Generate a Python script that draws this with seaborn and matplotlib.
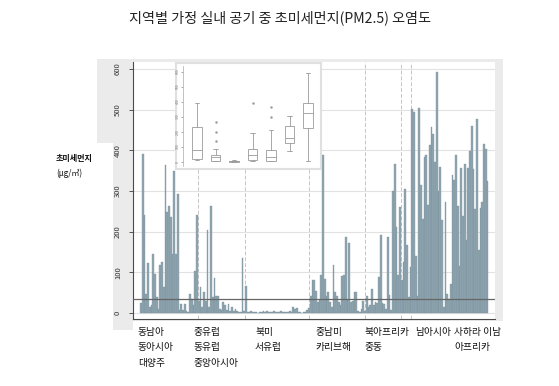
import matplotlib.pyplot as plt
import numpy as np
import seaborn as sns
from matplotlib.patches import Rectangle

sns.set_theme(style='white')
plt.rcParams['font.family'] = ['Noto Sans CJK KR', 'DejaVu Sans']
plt.rcParams['axes.unicode_minus'] = False

W, H = 559, 386

# 가정 실내 PM2.5 (국가별, 지역 순서대로) - 그림에서 읽은 값
asia_oceania = [25, 390, 240, 46, 122, 15, 20, 146, 96, 40, 10, 118, 126, 63,
                363, 249, 263, 237, 146, 348, 146, 293, 7, 22, 8, 22, 4, 3, 47]
europe_central_asia = [35, 20, 103, 240, 30, 65, 15, 52, 30, 205, 15, 262, 40,
                       85, 42, 42, 10, 8, 27, 20, 8, 22, 5, 15, 4, 10, 5, 3, 2,
                       135, 5, 67]
north_america_w_europe = [3, 2, 4, 2, 3, 2, 1, 3, 2, 4, 3, 5, 2, 3, 2, 4, 3, 2,
                          3, 5, 3, 2, 3, 2, 4, 3, 14, 10, 12, 3, 2, 1, 2, 3, 8]
latin_america = [12, 43, 80, 80, 53, 27, 32, 93, 389, 83, 43, 52, 27, 15, 119,
                 52, 43, 27, 20, 91, 93, 186, 32, 171, 28, 30, 52, 52, 6, 3]
mena = [10, 29, 5, 43, 15, 19, 60, 20, 27, 25, 88, 191, 25, 23, 10, 187, 45, 7]
south_asia_africa = [299, 367, 211, 93, 260, 80, 125, 305, 166, 39, 113, 502,
                     494, 140, 43, 503, 315, 232, 383, 387, 265, 412, 457, 440,
                     371, 592, 301, 359, 228, 15, 273, 47, 35, 72, 338, 326,
                     389, 263, 115, 356, 238, 367, 179, 356, 397, 459, 355, 255,
                     476, 154, 258, 273, 416, 404, 324]
pm25 = (asia_oceania + europe_central_asia + north_america_w_europe
        + latin_america + mena + south_asia_africa)
who_guideline = 35

# 삽입 상자그림 통계
box_lo = [12, 2, 0, 2, 2, 73, 7]
box_q1 = [16, 5, 1, 11, 5, 127, 222]
box_med = [78, 29, 3, 45, 33, 160, 322]
box_q3 = [233, 45, 5, 83, 78, 238, 393]
box_hi = [389, 83, 12, 189, 211, 305, 593]
box_out = [[], [135, 200, 265], [], [393], [300, 367], [], []]

region_rows = [['동남아', '동아시아', '대양주'],
               ['중유럽', '동유럽', '중앙아시아'],
               ['북미', '서유럽'],
               ['중남미', '카리브해'],
               ['북아프리카', '중동'],
               ['남아시아'],
               ['사하라 이남', '아프리카']]
region_x = [138, 193, 255, 315, 365, 415, 454]

title = '지역별 가정 실내 공기 중 초미세먼지(PM2.5) 오염도'


def fx(px):
    return px / W


def fy(py):
    return 1 - py / H


def main():
    fig = plt.figure(figsize=(W / 100, H / 100), dpi=100)
    fig.patch.set_facecolor('white')

    # 바깥 회색 패널과 덧붙인 흰 상자
    fig.add_artist(Rectangle((fx(97), fy(330)), fx(406), 271 / H,
                             transform=fig.transFigure, facecolor='#ebebeb',
                             edgecolor='none', zorder=-2))
    fig.add_artist(Rectangle((fx(133), 0), 1, fy(321),
                             transform=fig.transFigure, facecolor='white',
                             edgecolor='none', zorder=-1))
    fig.add_artist(Rectangle((0, 0), fx(113), fy(143),
                             transform=fig.transFigure, facecolor='white',
                             edgecolor='none', zorder=-1))

    ax = fig.add_axes([fx(133), fy(319), fx(362), 257 / H], zorder=0)
    ax.set_facecolor('white')
    sns.barplot(x=np.arange(len(pm25)), y=pm25, color='#90a6b1',
                saturation=1, width=0.9, linewidth=0.25,
                edgecolor='#78909c', ax=ax)
    step = 1.75
    ax.set_xlim(-(141 - 133) / step, -(141 - 133) / step + 362 / step)
    ax.set_ylim(-14.7, 616.7)
    ax.set_xticks([])
    ax.set_xlabel('')
    ax.set_ylabel('')
    ax.set_yticks(np.arange(0, 601, 100))
    ax.tick_params(axis='y', left=True, length=3, width=0.7, color='#555555',
                   pad=5, labelsize=5.5, labelcolor='#333333')
    for lab in ax.get_yticklabels():
        lab.set_rotation(90)
        lab.set_va('center')
    ax.set_axisbelow(True)
    ax.yaxis.grid(True, color='#e2e2e2', lw=0.8)
    for xp in [198, 245, 309, 365, 401, 411]:
        ax.axvline((xp - 141) / step, color='#c4c4c4', lw=0.7,
                   ls=(0, (4, 2)), zorder=0.5)
    ax.axhline(who_guideline, color='#666666', lw=0.9, zorder=3)
    for s in ['top', 'right']:
        ax.spines[s].set_visible(False)
    for s in ['left', 'bottom']:
        ax.spines[s].set_color('#4a4a4a')
        ax.spines[s].set_linewidth(0.8)

    # 삽입 상자그림
    fig.add_artist(Rectangle((fx(176), fy(169)), fx(145), 106 / H,
                             transform=fig.transFigure, facecolor='white',
                             edgecolor='#e0e0e0', lw=1.5, zorder=2))
    ins = fig.add_axes([fx(183), fy(166), fx(135), 100 / H], zorder=3)
    ins.set_facecolor('white')
    stats = [dict(whislo=a, q1=b, med=c, q3=d, whishi=e, fliers=f)
             for a, b, c, d, e, f in zip(box_lo, box_q1, box_med, box_q3,
                                         box_hi, box_out)]
    lc = '#9a9a9a'
    ins.bxp(stats, positions=range(1, 8), widths=0.5, patch_artist=True,
            boxprops=dict(facecolor='white', edgecolor=lc, lw=0.6),
            medianprops=dict(color=lc, lw=0.6),
            whiskerprops=dict(color=lc, lw=0.6),
            capprops=dict(color=lc, lw=0.6),
            flierprops=dict(marker='o', markersize=1.4, markerfacecolor=lc,
                            markeredgecolor=lc, markeredgewidth=0.3))
    ins.set_xlim(0.243, 7.54)
    ins.set_ylim(-28.7, 637)
    ins.set_xticks([])
    ins.set_yticks(np.arange(0, 601, 100))
    ins.tick_params(axis='y', left=True, length=1.5, width=0.5, color='#888888',
                    pad=1, labelsize=2.5, labelcolor='#777777')
    for lab in ins.get_yticklabels():
        lab.set_rotation(90)
        lab.set_va('center')
    for s in ['top', 'right', 'bottom']:
        ins.spines[s].set_visible(False)
    ins.spines['left'].set_color('#aaaaaa')
    ins.spines['left'].set_linewidth(0.5)

    # 제목, 축 제목, 지역 이름
    fig.text(fx(280), fy(18), title, fontsize=10.2, ha='center', va='center',
             color='#222222')
    fig.text(fx(56), fy(159), '초미세먼지', fontsize=5.8, ha='left',
             va='center', color='#111111', fontweight='bold')
    fig.text(fx(56), fy(173), '(μg/㎥)', fontsize=5.8, ha='left',
             va='center', color='#111111')
    row_y = [332, 347, 363]
    for names, xp in zip(region_rows, region_x):
        for name, yp in zip(names, row_y):
            fig.text(fx(xp), fy(yp), name, fontsize=7, ha='left',
                     va='center', color='#111111', fontweight='medium')

    fig.savefig('out.png', dpi=100)


if __name__ == '__main__':
    main()
